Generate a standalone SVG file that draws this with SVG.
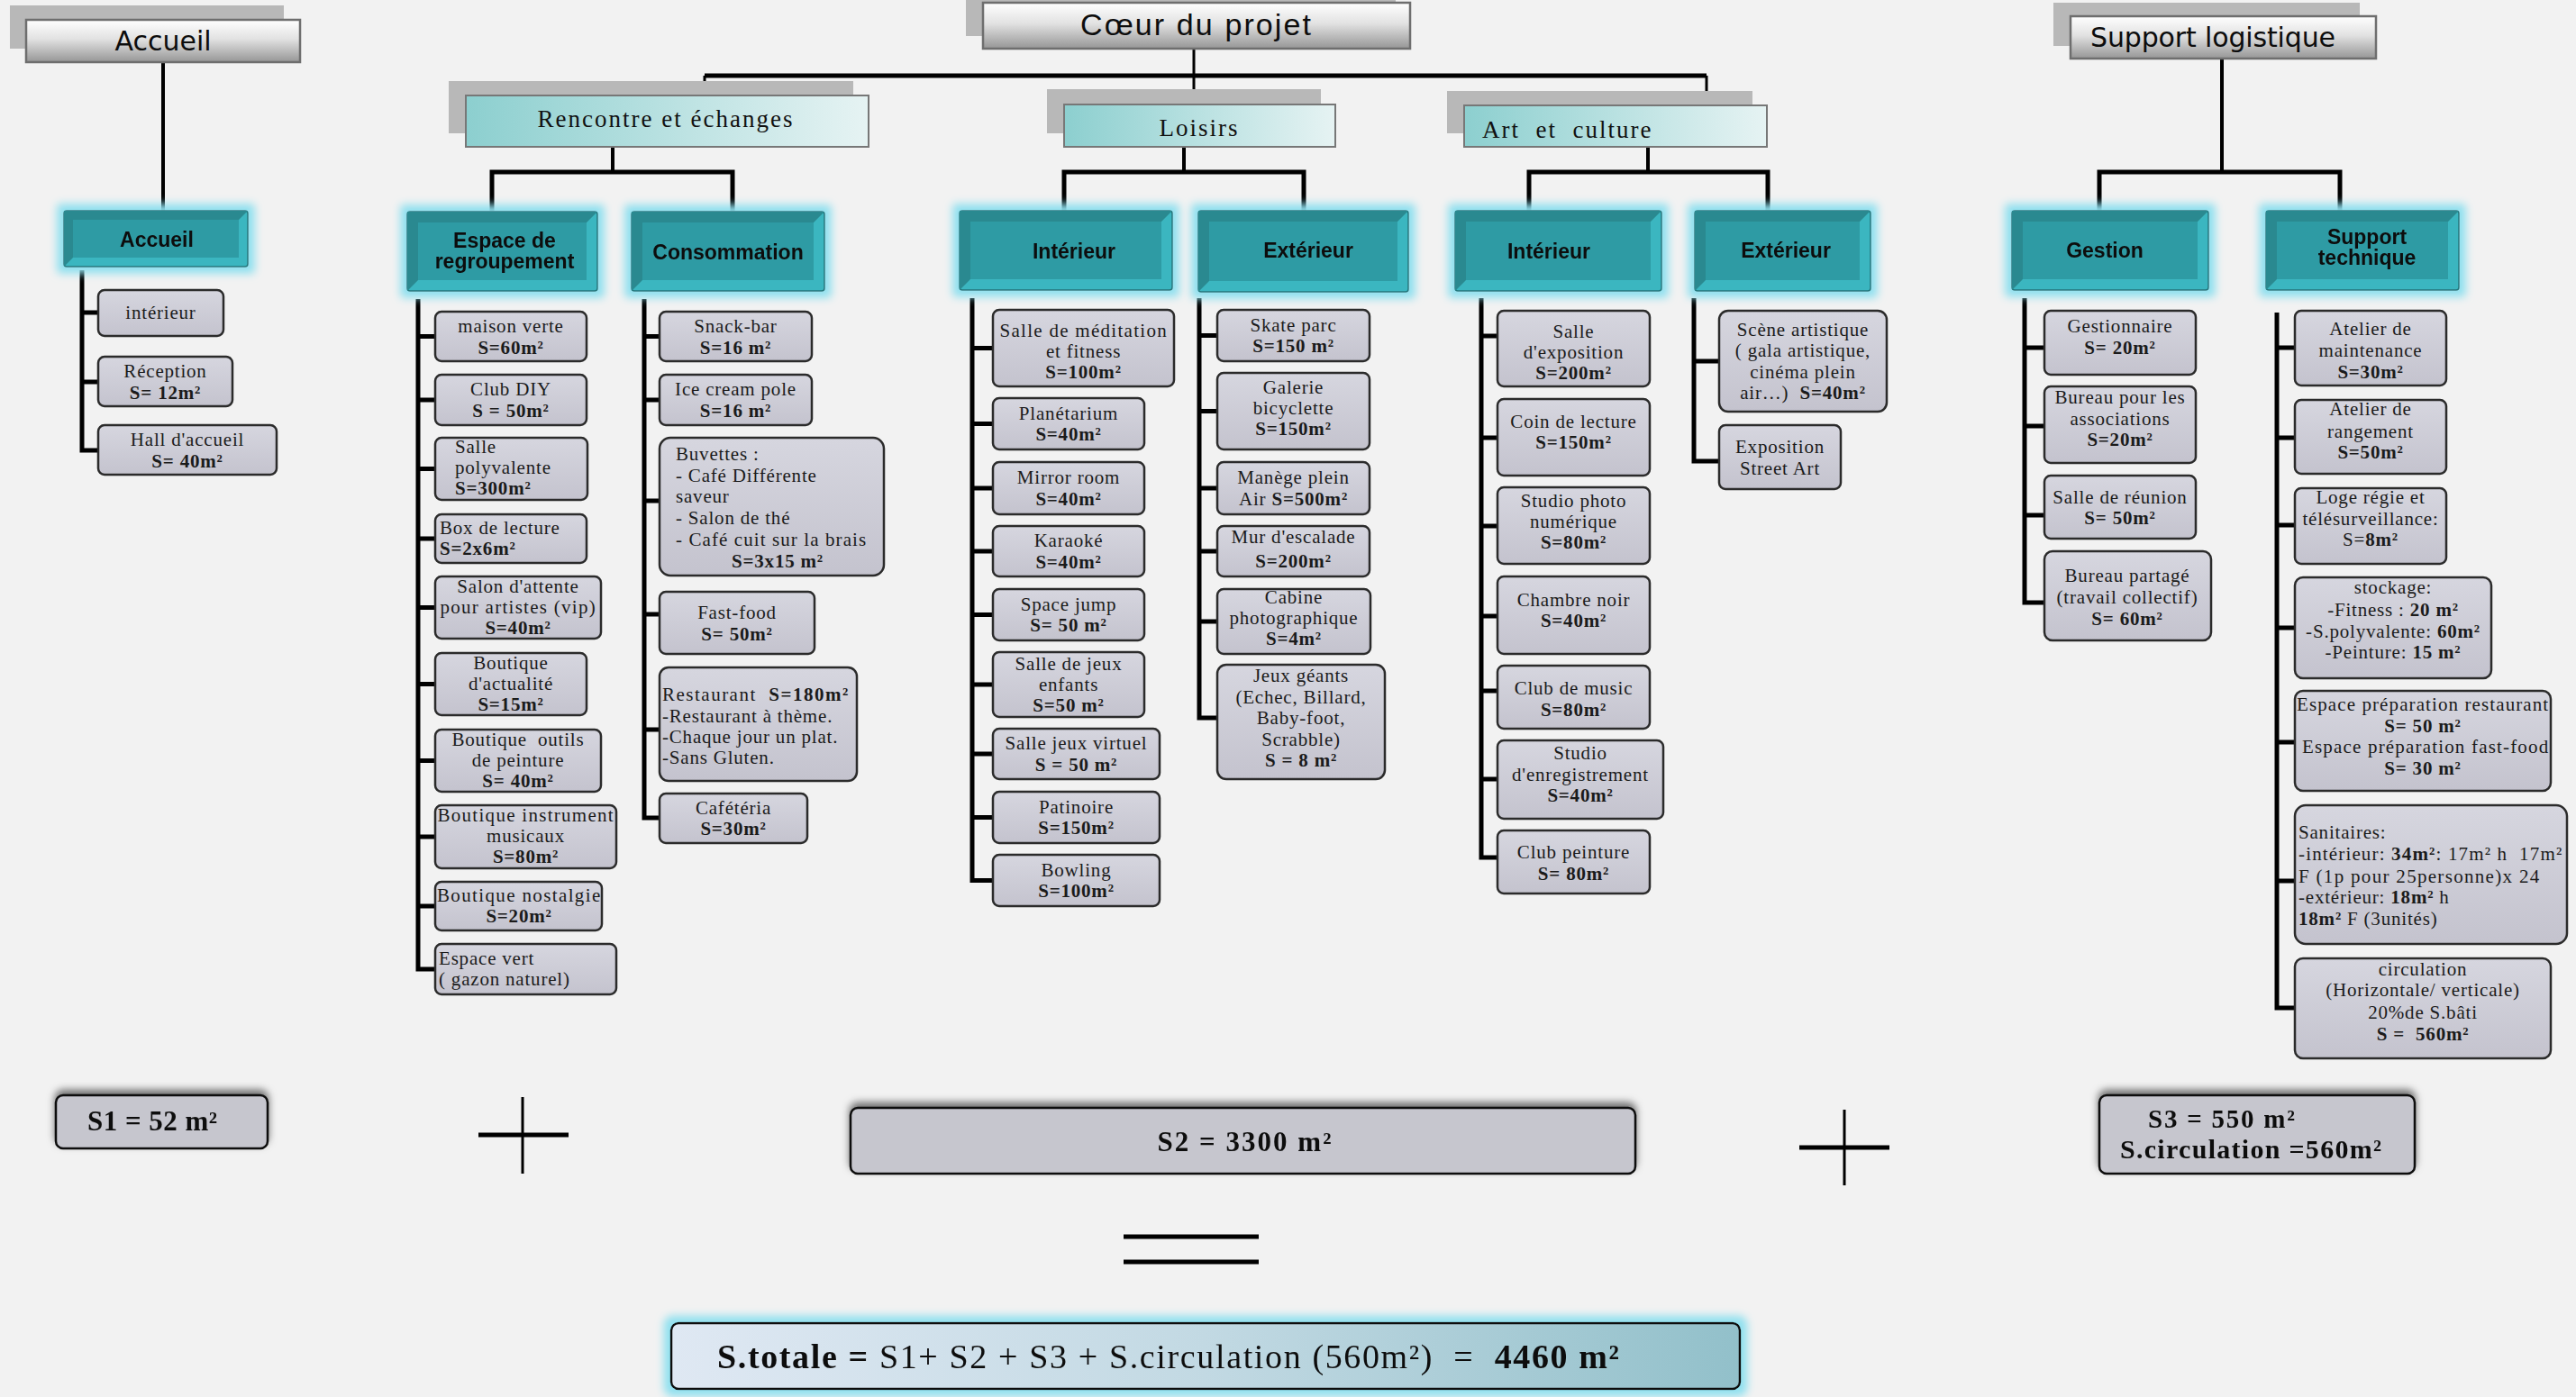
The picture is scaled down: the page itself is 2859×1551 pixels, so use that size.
<svg xmlns="http://www.w3.org/2000/svg" width="2859" height="1551" viewBox="0 0 2859 1551">
<style>
.it{font-family:"Liberation Serif","Times New Roman",serif;font-size:21px;letter-spacing:0.8px;fill:#1b1b1b;text-anchor:middle}
.lt{text-anchor:start}
.bd{font-weight:bold}
.bx{fill:url(#gi);stroke:#2b2b2b;stroke-width:2.5}
.tl{fill:#3bb6c0;stroke:#24747a;stroke-width:1.5}
.td{fill:#2a8990}
.tf{fill:#2f9ba4}
.tt{font-family:"Liberation Sans",Arial,sans-serif;font-weight:bold;font-size:23px;fill:#0d0d0d;text-anchor:middle}
.sh{fill:#b8b8b8}
.hd{fill:url(#gh);stroke:#6e6e6e;stroke-width:2.5}
.h2{fill:url(#g2);stroke:#777;stroke-width:2}
.ht{font-family:"DejaVu Sans",Verdana,sans-serif;font-size:30px;fill:#0d0d0d}
.st{font-family:"Liberation Serif","Times New Roman",serif;font-size:27px;letter-spacing:2px;fill:#111}
.conn{fill:none;stroke:#000;stroke-linejoin:miter}
.bb{fill:#c6c6ce;stroke:#111;stroke-width:2.5}
.bt{font-family:"Liberation Serif","Times New Roman",serif;font-weight:bold;fill:#111}
</style>
<defs>
<linearGradient id="gi" x1="0" y1="0" x2="0" y2="1"><stop offset="0" stop-color="#d6d6df"/><stop offset="1" stop-color="#c4c3ce"/></linearGradient>
<linearGradient id="gh" x1="0" y1="0" x2="0" y2="1"><stop offset="0" stop-color="#ffffff"/><stop offset="0.45" stop-color="#e2e2e2"/><stop offset="1" stop-color="#969696"/></linearGradient>
<linearGradient id="g2" x1="0" y1="0" x2="1" y2="0"><stop offset="0" stop-color="#8ccfcf"/><stop offset="1" stop-color="#e6f3f3"/></linearGradient>
<linearGradient id="gt" x1="0" y1="0" x2="1" y2="0"><stop offset="0" stop-color="#dfe8f3"/><stop offset="0.5" stop-color="#c2d9e3"/><stop offset="1" stop-color="#92c0ca"/></linearGradient>
<filter id="glow" x="-20%" y="-40%" width="140%" height="180%">
<feMorphology in="SourceAlpha" operator="dilate" radius="7" result="d"/>
<feGaussianBlur in="d" stdDeviation="5" result="b"/>
<feFlood flood-color="#8fe0ef"/>
<feComposite in2="b" operator="in" result="g"/>
<feMerge><feMergeNode in="g"/><feMergeNode in="SourceGraphic"/></feMerge>
</filter>
<filter id="topsh" x="-5%" y="-40%" width="110%" height="160%">
<feGaussianBlur in="SourceAlpha" stdDeviation="4"/>
<feOffset dx="0" dy="-5" result="o"/>
<feFlood flood-color="#000" flood-opacity="0.55"/>
<feComposite in2="o" operator="in" result="s"/>
<feMerge><feMergeNode in="s"/><feMergeNode in="SourceGraphic"/></feMerge>
</filter>
</defs>
<rect x="0" y="0" width="2859" height="1551" fill="#f2f2f2"/>

<g id="connectors">
<path class="conn" stroke-width="4" d="M181 69 V234"/>
<path class="conn" stroke-width="3" d="M1325 54 V116 M782 84 V106 M1894 84 V117"/>
<path class="conn" stroke-width="5" d="M782 84 H1894"/>
<path class="conn" stroke-width="4" d="M680 163 V191 M1314 163 V191 M1829 163 V191 M2466 65 V191"/>
<path class="conn" stroke-width="5" d="M546 234 V191 H813 V234 M1181 234 V191 H1447 V234 M1697 234 V191 H1962 V234 M2330 234 V191 H2597 V234"/>
<path class="conn" stroke-width="5" d="M91 300 V500 H109 M91 347 H109 M91 424 H109"/>
<path class="conn" stroke-width="5" d="M464 332 V1076 H483 M464 373.5 H483 M464 444 H483 M464 520.5 H483 M464 598 H483 M464 674.5 H483 M464 759.5 H483 M464 844.5 H483 M464 929 H483 M464 1006 H483"/>
<path class="conn" stroke-width="5" d="M715 332 V908 H732 M715 373.5 H732 M715 444 H732 M715 556 H732 M715 682 H732 M715 810 H732"/>
<path class="conn" stroke-width="5" d="M1079 331 V977.5 H1102 M1079 386.5 H1102 M1079 470.5 H1102 M1079 542 H1102 M1079 612 H1102 M1079 682.5 H1102 M1079 760 H1102 M1079 837 H1102 M1079 907.5 H1102"/>
<path class="conn" stroke-width="5" d="M1331 331 V797 H1351 M1331 372.5 H1351 M1331 456.5 H1351 M1331 542 H1351 M1331 612 H1351 M1331 690 H1351"/>
<path class="conn" stroke-width="5" d="M1644 331 V952 H1662 M1644 373 H1662 M1644 486 H1662 M1644 584 H1662 M1644 684 H1662 M1644 767 H1662 M1644 865 H1662"/>
<path class="conn" stroke-width="5" d="M1880 331 V512 H1908 M1880 401 H1908"/>
<path class="conn" stroke-width="5" d="M2247 331 V669 H2269 M2247 386 H2269 M2247 473 H2269 M2247 572 H2269"/>
<path class="conn" stroke-width="5" d="M2527 347 V1119 H2547 M2527 386 H2547 M2527 486 H2547 M2527 583 H2547 M2527 697 H2547 M2527 824 H2547 M2527 978 H2547"/>
</g>

<!-- headers -->
<g id="h-accueil"><rect class="sh" x="11" y="6" width="304" height="48"/><rect class="hd" x="29" y="22" width="304" height="47"/><text class="ht" x="181" y="56" text-anchor="middle">Accueil</text></g>
<g id="h-coeur"><rect class="sh" x="1072" y="0" width="477" height="40"/><rect class="hd" x="1091" y="3" width="474" height="51"/><text x="1327" y="39" text-anchor="middle" font-family="Liberation Sans, Arial, sans-serif" font-size="34" fill="#0d0d0d" textLength="256">Cœur du projet</text></g>
<g id="h-support"><rect class="sh" x="2279" y="3" width="340" height="48"/><rect class="hd" x="2298" y="18" width="339" height="47"/><text class="ht" x="2320" y="52" textLength="272">Support logistique</text></g>

<g id="h-rencontre"><rect class="sh" x="498" y="90" width="449" height="58"/><rect class="h2" x="517" y="106" width="447" height="57"/><text class="st" x="739" y="141" text-anchor="middle">Rencontre et échanges</text></g>
<g id="h-loisirs"><rect class="sh" x="1162" y="99" width="304" height="49"/><rect class="h2" x="1181" y="116" width="301" height="47"/><text class="st" x="1331" y="151" text-anchor="middle">Loisirs</text></g>
<g id="h-art"><rect class="sh" x="1606" y="101" width="339" height="47"/><rect class="h2" x="1625" y="117" width="336" height="46"/><text class="st" x="1645" y="153" xml:space="preserve">Art  et  culture</text></g>

<!-- teal category buttons -->
<g id="c-accueil" filter="url(#glow)"><rect class="tl" x="71" y="234" width="204" height="62" rx="3"/><polygon class="td" points="71,234 275,234 265,244 81,244 81,286 71,296"/><rect class="tf" x="81" y="244" width="184" height="42"/><text class="tt" x="174" y="274" font-size="25">Accueil</text></g>
<g id="c-espace" filter="url(#glow)"><rect class="tl" x="452" y="235" width="211" height="88" rx="3"/><polygon class="td" points="452,235 663,235 651,247 464,247 464,311 452,323"/><rect class="tf" x="464" y="247" width="187" height="64"/><text class="tt" x="560" y="275" font-size="23">Espace de</text><text class="tt" x="560" y="298" font-size="23">regroupement</text></g>
<g id="c-conso" filter="url(#glow)"><rect class="tl" x="701" y="235" width="214" height="88" rx="3"/><polygon class="td" points="701,235 915,235 903,247 713,247 713,311 701,323"/><rect class="tf" x="713" y="247" width="190" height="64"/><text class="tt" x="808" y="288" font-size="24">Consommation</text></g>
<g id="c-lint" filter="url(#glow)"><rect class="tl" x="1065" y="234" width="236" height="88" rx="3"/><polygon class="td" points="1065,234 1301,234 1289,246 1077,246 1077,310 1065,322"/><rect class="tf" x="1077" y="246" width="212" height="64"/><text class="tt" x="1192" y="287" font-size="25">Intérieur</text></g>
<g id="c-lext" filter="url(#glow)"><rect class="tl" x="1330" y="234" width="233" height="90" rx="3"/><polygon class="td" points="1330,234 1563,234 1551,246 1342,246 1342,312 1330,324"/><rect class="tf" x="1342" y="246" width="209" height="66"/><text class="tt" x="1452" y="286" font-size="25">Extérieur</text></g>
<g id="c-aint" filter="url(#glow)"><rect class="tl" x="1615" y="234" width="229" height="89" rx="3"/><polygon class="td" points="1615,234 1844,234 1832,246 1627,246 1627,311 1615,323"/><rect class="tf" x="1627" y="246" width="205" height="65"/><text class="tt" x="1719" y="287" font-size="25">Intérieur</text></g>
<g id="c-aext" filter="url(#glow)"><rect class="tl" x="1881" y="234" width="195" height="89" rx="3"/><polygon class="td" points="1881,234 2076,234 2064,246 1893,246 1893,311 1881,323"/><rect class="tf" x="1893" y="246" width="171" height="65"/><text class="tt" x="1982" y="286" font-size="25">Extérieur</text></g>
<g id="c-gestion" filter="url(#glow)"><rect class="tl" x="2233" y="234" width="218" height="88" rx="3"/><polygon class="td" points="2233,234 2451,234 2439,246 2245,246 2245,310 2233,322"/><rect class="tf" x="2245" y="246" width="194" height="64"/><text class="tt" x="2336" y="286" font-size="25">Gestion</text></g>
<g id="c-suptech" filter="url(#glow)"><rect class="tl" x="2515" y="234" width="214" height="88" rx="3"/><polygon class="td" points="2515,234 2729,234 2717,246 2527,246 2527,310 2515,322"/><rect class="tf" x="2527" y="246" width="190" height="64"/><text class="tt" x="2627" y="271" font-size="23">Support</text><text class="tt" x="2627" y="294" font-size="23">technique</text></g>

<!-- Accueil items -->
<g id="n-acc-int"><rect class="bx" x="109" y="322" width="139" height="51" rx="7"/><text class="it" x="178.5" y="354">intérieur</text></g>
<g id="n-acc-rec"><rect class="bx" x="109" y="396" width="149" height="55" rx="7"/><text class="it" x="183.5" y="419">Réception</text><text class="it bd" x="183.5" y="443">S= 12m²</text></g>
<g id="n-acc-hall"><rect class="bx" x="109" y="472" width="198" height="55" rx="7"/><text class="it" x="208" y="495">Hall d'accueil</text><text class="it bd" x="208" y="519">S= 40m²</text></g>

<!-- Espace de regroupement -->
<g id="n-e1"><rect class="bx" x="483" y="346" width="168" height="55" rx="7"/><text class="it" x="567" y="369">maison verte</text><text class="it bd" x="567" y="393">S=60m²</text></g>
<g id="n-e2"><rect class="bx" x="483" y="416" width="168" height="56" rx="7"/><text class="it" x="567" y="439">Club DIY</text><text class="it bd" x="567" y="463">S = 50m²</text></g>
<g id="n-e3"><rect class="bx" x="483" y="486" width="169" height="69" rx="7"/><text class="it lt" x="505" y="503">Salle</text><text class="it lt" x="505" y="526">polyvalente</text><text class="it lt bd" x="505" y="549">S=300m²</text></g>
<g id="n-e4"><rect class="bx" x="483" y="571" width="168" height="54" rx="7"/><text class="it lt" x="488" y="593">Box de lecture</text><text class="it lt bd" x="488" y="616">S=2x6m²</text></g>
<g id="n-e5"><rect class="bx" x="483" y="640" width="184" height="69" rx="7"/><text class="it" x="575" y="658">Salon d'attente</text><text class="it" x="575" y="681" textLength="173">pour artistes (vip)</text><text class="it bd" x="575" y="704">S=40m²</text></g>
<g id="n-e6"><rect class="bx" x="483" y="725" width="168" height="69" rx="7"/><text class="it" x="567" y="743">Boutique</text><text class="it" x="567" y="766">d'actualité</text><text class="it bd" x="567" y="789">S=15m²</text></g>
<g id="n-e7"><rect class="bx" x="483" y="810" width="184" height="69" rx="7"/><text class="it" x="575" y="828" xml:space="preserve">Boutique  outils</text><text class="it" x="575" y="851">de peinture</text><text class="it bd" x="575" y="874">S= 40m²</text></g>
<g id="n-e8"><rect class="bx" x="483" y="894" width="201" height="70" rx="7"/><text class="it" x="583.5" y="912" textLength="196">Boutique instrument</text><text class="it" x="583.5" y="935">musicaux</text><text class="it bd" x="583.5" y="958">S=80m²</text></g>
<g id="n-e9"><rect class="bx" x="483" y="979" width="185" height="54" rx="7"/><text class="it" x="576" y="1001" textLength="182">Boutique nostalgie</text><text class="it bd" x="576" y="1024">S=20m²</text></g>
<g id="n-e10"><rect class="bx" x="483" y="1048" width="201" height="56" rx="7"/><text class="it lt" x="487" y="1071">Espace vert</text><text class="it lt" x="487" y="1094">( gazon naturel)</text></g>

<!-- Consommation -->
<g id="n-c1"><rect class="bx" x="732" y="346" width="169" height="55" rx="7"/><text class="it" x="816.5" y="369">Snack-bar</text><text class="it bd" x="816.5" y="393">S=16 m²</text></g>
<g id="n-c2"><rect class="bx" x="732" y="416" width="169" height="56" rx="7"/><text class="it" x="816.5" y="439">Ice cream pole</text><text class="it bd" x="816.5" y="463">S=16 m²</text></g>
<g id="n-c3"><rect class="bx" x="732" y="486" width="249" height="153" rx="12"/><text class="it lt" x="750" y="511">Buvettes :</text><text class="it lt" x="750" y="535">- Café Différente</text><text class="it lt" x="750" y="558">saveur</text><text class="it lt" x="750" y="582">- Salon de thé</text><text class="it lt" x="750" y="606" textLength="212">- Café cuit sur la brais</text><text class="it bd" x="863" y="630">S=3x15 m²</text></g>
<g id="n-c4"><rect class="bx" x="732" y="657" width="172" height="69" rx="7"/><text class="it" x="818" y="687">Fast-food</text><text class="it bd" x="818" y="711">S= 50m²</text></g>
<g id="n-c5"><rect class="bx" x="732" y="741" width="219" height="126" rx="10"/><text class="it lt" x="735" y="778" textLength="207" xml:space="preserve">Restaurant  <tspan class="bd">S=180m²</tspan></text><text class="it lt" x="735" y="802">-Restaurant à thème.</text><text class="it lt" x="735" y="825">-Chaque jour un plat.</text><text class="it lt" x="735" y="848">-Sans Gluten.</text></g>
<g id="n-c6"><rect class="bx" x="732" y="881" width="164" height="55" rx="7"/><text class="it" x="814" y="904">Cafétéria</text><text class="it bd" x="814" y="927">S=30m²</text></g>

<!-- Loisirs interieur -->
<g id="n-l1"><rect class="bx" x="1102" y="344" width="201" height="85" rx="7"/><text class="it" x="1202.5" y="374" textLength="186">Salle de méditation</text><text class="it" x="1202.5" y="397">et fitness</text><text class="it bd" x="1202.5" y="420">S=100m²</text></g>
<g id="n-l2"><rect class="bx" x="1102" y="442" width="168" height="57" rx="7"/><text class="it" x="1186" y="466">Planétarium</text><text class="it bd" x="1186" y="489">S=40m²</text></g>
<g id="n-l3"><rect class="bx" x="1102" y="513" width="168" height="58" rx="7"/><text class="it" x="1186" y="537">Mirror room</text><text class="it bd" x="1186" y="561">S=40m²</text></g>
<g id="n-l4"><rect class="bx" x="1102" y="584" width="168" height="56" rx="7"/><text class="it" x="1186" y="607">Karaoké</text><text class="it bd" x="1186" y="631">S=40m²</text></g>
<g id="n-l5"><rect class="bx" x="1102" y="654" width="168" height="57" rx="7"/><text class="it" x="1186" y="678">Space jump</text><text class="it bd" x="1186" y="701">S= 50 m²</text></g>
<g id="n-l6"><rect class="bx" x="1102" y="724" width="168" height="72" rx="7"/><text class="it" x="1186" y="744">Salle de jeux</text><text class="it" x="1186" y="767">enfants</text><text class="it bd" x="1186" y="790">S=50 m²</text></g>
<g id="n-l7"><rect class="bx" x="1102" y="809" width="185" height="56" rx="7"/><text class="it" x="1194.5" y="832">Salle jeux virtuel</text><text class="it bd" x="1194.5" y="856">S = 50 m²</text></g>
<g id="n-l8"><rect class="bx" x="1102" y="879" width="185" height="57" rx="7"/><text class="it" x="1194.5" y="903">Patinoire</text><text class="it bd" x="1194.5" y="926">S=150m²</text></g>
<g id="n-l9"><rect class="bx" x="1102" y="949" width="185" height="57" rx="7"/><text class="it" x="1194.5" y="973">Bowling</text><text class="it bd" x="1194.5" y="996">S=100m²</text></g>

<!-- Loisirs exterieur -->
<g id="n-x1"><rect class="bx" x="1351" y="344" width="169" height="57" rx="7"/><text class="it" x="1435.5" y="368">Skate parc</text><text class="it bd" x="1435.5" y="391">S=150 m²</text></g>
<g id="n-x2"><rect class="bx" x="1351" y="414" width="169" height="85" rx="7"/><text class="it" x="1435.5" y="437">Galerie</text><text class="it" x="1435.5" y="460">bicyclette</text><text class="it bd" x="1435.5" y="483">S=150m²</text></g>
<g id="n-x3"><rect class="bx" x="1351" y="513" width="169" height="58" rx="7"/><text class="it" x="1435.5" y="537">Manège plein</text><text class="it" x="1435.5" y="561">Air <tspan class="bd">S=500m²</tspan></text></g>
<g id="n-x4"><rect class="bx" x="1351" y="584" width="169" height="56" rx="7"/><text class="it" x="1435.5" y="603">Mur d'escalade</text><text class="it bd" x="1435.5" y="630">S=200m²</text></g>
<g id="n-x5"><rect class="bx" x="1351" y="654" width="170" height="72" rx="7"/><text class="it" x="1436" y="670">Cabine</text><text class="it" x="1436" y="693">photographique</text><text class="it bd" x="1436" y="716">S=4m²</text></g>
<g id="n-x6"><rect class="bx" x="1351" y="738" width="186" height="127" rx="10"/><text class="it" x="1444" y="757">Jeux géants</text><text class="it" x="1444" y="781">(Echec, Billard,</text><text class="it" x="1444" y="804">Baby-foot,</text><text class="it" x="1444" y="828">Scrabble)</text><text class="it bd" x="1444" y="851">S = 8 m²</text></g>

<!-- Art interieur -->
<g id="n-i1"><rect class="bx" x="1662" y="345" width="169" height="84" rx="7"/><text class="it" x="1746.5" y="375">Salle</text><text class="it" x="1746.5" y="398">d'exposition</text><text class="it bd" x="1746.5" y="421">S=200m²</text></g>
<g id="n-i2"><rect class="bx" x="1662" y="443" width="169" height="85" rx="7"/><text class="it" x="1746.5" y="475">Coin de lecture</text><text class="it bd" x="1746.5" y="498">S=150m²</text></g>
<g id="n-i3"><rect class="bx" x="1662" y="541" width="169" height="85" rx="7"/><text class="it" x="1746.5" y="563">Studio photo</text><text class="it" x="1746.5" y="586">numérique</text><text class="it bd" x="1746.5" y="609">S=80m²</text></g>
<g id="n-i4"><rect class="bx" x="1662" y="640" width="169" height="86" rx="7"/><text class="it" x="1746.5" y="673">Chambre noir</text><text class="it bd" x="1746.5" y="696">S=40m²</text></g>
<g id="n-i5"><rect class="bx" x="1662" y="739" width="169" height="70" rx="7"/><text class="it" x="1746.5" y="771">Club de music</text><text class="it bd" x="1746.5" y="795">S=80m²</text></g>
<g id="n-i6"><rect class="bx" x="1662" y="822" width="184" height="87" rx="7"/><text class="it" x="1754" y="843">Studio</text><text class="it" x="1754" y="867">d'enregistrement</text><text class="it bd" x="1754" y="890">S=40m²</text></g>
<g id="n-i7"><rect class="bx" x="1662" y="922" width="169" height="70" rx="7"/><text class="it" x="1746.5" y="953">Club peinture</text><text class="it bd" x="1746.5" y="977">S= 80m²</text></g>

<!-- Art exterieur -->
<g id="n-y1"><rect class="bx" x="1908" y="345" width="186" height="112" rx="10"/><text class="it" x="2001" y="373">Scène artistique</text><text class="it" x="2001" y="396">( gala artistique,</text><text class="it" x="2001" y="420">cinéma plein</text><text class="it" x="2001" y="443" xml:space="preserve">air…)  <tspan class="bd">S=40m²</tspan></text></g>
<g id="n-y2"><rect class="bx" x="1908" y="472" width="135" height="71" rx="7"/><text class="it" x="1975.5" y="503">Exposition</text><text class="it" x="1975.5" y="527">Street Art</text></g>

<!-- Gestion -->
<g id="n-g1"><rect class="bx" x="2269" y="345" width="168" height="71" rx="7"/><text class="it" x="2353" y="369">Gestionnaire</text><text class="it bd" x="2353" y="393">S= 20m²</text></g>
<g id="n-g2"><rect class="bx" x="2269" y="429" width="168" height="85" rx="7"/><text class="it" x="2353" y="448">Bureau pour les</text><text class="it" x="2353" y="472">associations</text><text class="it bd" x="2353" y="495">S=20m²</text></g>
<g id="n-g3"><rect class="bx" x="2269" y="528" width="168" height="70" rx="7"/><text class="it" x="2353" y="559">Salle de réunion</text><text class="it bd" x="2353" y="582">S= 50m²</text></g>
<g id="n-g4"><rect class="bx" x="2269" y="612" width="185" height="99" rx="9"/><text class="it" x="2361" y="646">Bureau partagé</text><text class="it" x="2361" y="670">(travail collectif)</text><text class="it bd" x="2361" y="694">S= 60m²</text></g>

<!-- Support technique -->
<g id="n-t1"><rect class="bx" x="2547" y="345" width="168" height="83" rx="7"/><text class="it" x="2631" y="372">Atelier de</text><text class="it" x="2631" y="396">maintenance</text><text class="it bd" x="2631" y="420">S=30m²</text></g>
<g id="n-t2"><rect class="bx" x="2547" y="444" width="168" height="82" rx="7"/><text class="it" x="2631" y="461">Atelier de</text><text class="it" x="2631" y="486">rangement</text><text class="it bd" x="2631" y="509">S=50m²</text></g>
<g id="n-t3"><rect class="bx" x="2547" y="542" width="168" height="84" rx="7"/><text class="it" x="2631" y="559">Loge régie et</text><text class="it" x="2631" y="583">télésurveillance:</text><text class="it" x="2631" y="606">S=<tspan class="bd">8m²</tspan></text></g>
<g id="n-t4"><rect class="bx" x="2547" y="641" width="218" height="112" rx="9"/><text class="it" x="2656" y="659">stockage:</text><text class="it" x="2656" y="684">-Fitness : <tspan class="bd">20 m²</tspan></text><text class="it" x="2656" y="708">-S.polyvalente: <tspan class="bd">60m²</tspan></text><text class="it" x="2656" y="731">-Peinture: <tspan class="bd">15 m²</tspan></text></g>
<g id="n-t5"><rect class="bx" x="2547" y="767" width="284" height="111" rx="9"/><text class="it" x="2689" y="789" textLength="280">Espace préparation restaurant</text><text class="it bd" x="2689" y="813">S= 50 m²</text><text class="it" x="2692" y="836" textLength="274">Espace préparation fast-food</text><text class="it bd" x="2689" y="860">S= 30 m²</text></g>
<g id="n-t6"><rect class="bx" x="2547" y="894" width="302" height="154" rx="12"/><text class="it lt" x="2551" y="931">Sanitaires:</text><text class="it lt" x="2551" y="955" textLength="293" xml:space="preserve">-intérieur: <tspan class="bd">34m²</tspan>: 17m² h  17m²</text><text class="it lt" x="2551" y="980" textLength="268">F (1p pour 25personne)x 24</text><text class="it lt" x="2551" y="1003">-extérieur: <tspan class="bd">18m²</tspan> h</text><text class="it lt" x="2551" y="1027"><tspan class="bd">18m²</tspan> F (3unités)</text></g>
<g id="n-t7"><rect class="bx" x="2547" y="1064" width="284" height="111" rx="9"/><text class="it" x="2689" y="1083">circulation</text><text class="it" x="2689" y="1106">(Horizontale/ verticale)</text><text class="it" x="2689" y="1131">20%de S.bâti</text><text class="it bd" x="2689" y="1155" xml:space="preserve">S =  560m²</text></g>

<!-- Bottom sums -->
<g id="s1" filter="url(#topsh)"><rect class="bb" x="62" y="1216" width="235" height="59" rx="8"/><text class="bt" x="97" y="1255" font-size="31" textLength="144">S1 = 52 m²</text></g>
<g id="plus1"><path d="M580 1218 V1303" stroke="#000" stroke-width="3"/><path d="M531 1260 H631" stroke="#000" stroke-width="5"/></g>
<g id="s2" filter="url(#topsh)"><rect class="bb" x="944" y="1230" width="871" height="73" rx="8"/><text class="bt" x="1381" y="1278" font-size="31" text-anchor="middle" textLength="193">S2 = 3300 m²</text></g>
<g id="plus2"><path d="M2047 1232 V1316" stroke="#000" stroke-width="3"/><path d="M1997 1274 H2097" stroke="#000" stroke-width="5"/></g>
<g id="s3" filter="url(#topsh)"><rect class="bb" x="2330" y="1216" width="350" height="87" rx="8"/><text class="bt" x="2384" y="1252" font-size="29" textLength="163">S3 = 550 m²</text><text class="bt" x="2353" y="1286" font-size="30" textLength="290">S.circulation =560m²</text></g>
<g id="equals"><path d="M1247 1373 H1397 M1247 1401 H1397" stroke="#000" stroke-width="5"/></g>
<g id="stotale" filter="url(#glow)"><rect x="745" y="1469" width="1186" height="73" rx="8" fill="url(#gt)" stroke="#111" stroke-width="2.5"/><text x="796" y="1519" font-family="Liberation Serif, Times New Roman, serif" font-size="38" fill="#111" textLength="1001" xml:space="preserve"><tspan font-weight="bold">S.totale =</tspan> S1+ S2 + S3 + S.circulation (560m²)  =  <tspan font-weight="bold">4460 m²</tspan></text></g>
</svg>
